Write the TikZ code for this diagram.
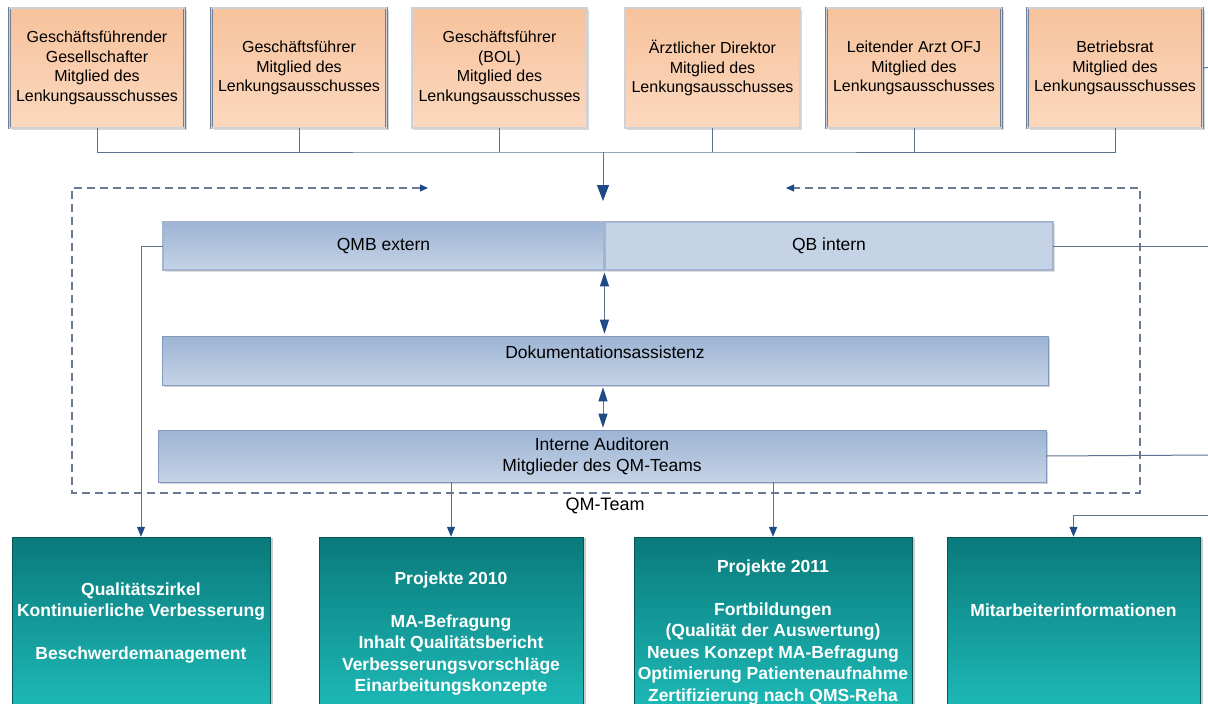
\documentclass[tikz,border=0pt]{standalone}
\usepackage{fontspec}
\setmainfont{Liberation Sans}
\usetikzlibrary{positioning, arrows.meta, shadows, calc}
\definecolor{lsorange}{HTML}{F7C29C}
\definecolor{lsorangelt}{HTML}{FBD8BE}
\definecolor{lsframe}{HTML}{6E7C94}
\definecolor{qmblue}{HTML}{9DB4D4}
\definecolor{qmbluelt}{HTML}{C5D3E6}
\definecolor{qmframe}{HTML}{5878AB}
\definecolor{tealdk}{HTML}{0A7A7B}
\definecolor{teallt}{HTML}{1FC0BD}
\definecolor{linegray}{HTML}{5B7292}
\definecolor{arrblue}{HTML}{1F4A86}
\definecolor{dashgray}{HTML}{6A7A92}

\begin{document}
\begin{tikzpicture}[
      x=1pt, y=-1pt,
      every node/.style={inner sep=2pt},
      lbox/.style={draw=lsframe, line width=0.9pt, double=lsframe!35, double distance=1.1pt,
                   top color=lsorange, bottom color=lsorangelt,
                   minimum width=175pt, minimum height=120pt, align=center,
                   font=\fontsize{16}{19.7}\selectfont,
                   drop shadow={shadow xshift=2pt, shadow yshift=-2pt, opacity=0.3}},
      qbox/.style={draw=qmframe, line width=0.9pt, double=qmframe!55, double distance=1.1pt,
                   top color=qmblue, bottom color=qmbluelt,
                   minimum height=48pt, align=center,
                   font=\fontsize{17.5}{21}\selectfont,
                   drop shadow={shadow xshift=2pt, shadow yshift=-2pt, opacity=0.25}},
      qflat/.style={qbox, top color=qmbluelt, bottom color=qmbluelt},
      mbox/.style={draw=qmframe!75, line width=0.6pt,
                   top color=qmblue, bottom color=qmbluelt, align=center,
                   font=\fontsize{17.5}{21}\selectfont,
                   drop shadow={shadow xshift=2pt, shadow yshift=-2pt, opacity=0.35}},
      tbox/.style={draw=tealdk!70!black, line width=0.5pt,
                   top color=tealdk, bottom color=teallt,
                   minimum height=190pt,
                   drop shadow={shadow xshift=2.5pt, shadow yshift=-1pt, opacity=0.4}},
      ttext/.style={text=white, align=center, anchor=north,
                    font=\bfseries\fontsize{17.5}{21.5}\selectfont},
      conn/.style={draw=linegray, line width=1pt},
      bigarr/.style={conn, -{Triangle[length=16pt, width=12pt, color=arrblue]}},
      dblarr/.style={conn, {Triangle[length=14pt, width=9pt, color=arrblue]}-{Triangle[length=14pt, width=9pt, color=arrblue]},
                     shorten <=2pt, shorten >=2pt},
      smarr/.style={conn, -{Triangle[length=10pt, width=8pt, color=arrblue]}},
      dasharr/.style={draw=dashgray, line width=1.1pt, dash pattern=on 8pt off 5pt,
                      {Triangle[length=8pt, width=7pt, color=arrblue]}-{Triangle[length=8pt, width=7pt, color=arrblue]}},
    ]
    \useasboundingbox (0,0) rectangle (1208,704);
    \clip (0,0) rectangle (1208,704);

    \node[lbox] (t1) at (97,68)
      {Geschäftsführender\\Gesellschafter\\Mitglied des\\Lenkungsausschusses};
    \node[lbox] (t2) at (299,68)
      {Geschäftsführer\\Mitglied des\\Lenkungsausschusses};
    \node[lbox] (t3) at (499.5,68)
      {Geschäftsführer\\(BOL)\\Mitglied des\\Lenkungsausschusses};
    \node[lbox] (t4) at (712.5,68)
      {Ärztlicher Direktor\\Mitglied des\\Lenkungsausschusses};
    \node[lbox] (t5) at (914,68)
      {Leitender Arzt OFJ\\Mitglied des\\Lenkungsausschusses};
    \node[lbox] (t6) at (1115,68)
      {Betriebsrat\\Mitglied des\\Lenkungsausschusses};

    \coordinate (bus) at (603,152);
    \coordinate (qmin) at (603,201);
    \coordinate (edge1) at (1212,67);

    \node[qbox, minimum width=441pt] (qmb) at (383.5,246) {QMB extern};
    \node[qflat, minimum width=448pt] (qb) at (829,246) {QB intern};
    \node[mbox, minimum width=886pt, minimum height=49pt, text height=12pt, text depth=17pt]
      (dok) at (605,360.5) {Dokumentationsassistenz};
    \node[mbox, minimum width=888pt, minimum height=52pt] (ia) at (602,456)
      {Interne Auditoren\\Mitglieder des QM-Teams};

    \coordinate (dL) at (428,188);
    \coordinate (dR) at (786,188);
    \node[font=\fontsize{18}{21}\selectfont] (qmteam) at (605,506) {QM-Team};

    \node[tbox, minimum width=258pt] (b1) at (141,632)
      {};
    \node[tbox, minimum width=264pt] (b2) at (451,632)
      {};
    \node[tbox, minimum width=278pt] (b3) at (773,632)
      {};
    \node[tbox, minimum width=253pt] (b4) at (1073.5,632)
      {};
    \node[ttext, yshift=-43.7pt] (b1t) at (b1.north)
      {Qualitätszirkel\\Kontinuierliche Verbesserung\\[21.5pt]Beschwerdemanagement};
    \node[ttext, yshift=-32.7pt] (b2t) at (b2.north)
      {Projekte 2010\\[21.5pt]MA-Befragung\\Inhalt Qualitätsbericht\\Verbesserungsvorschläge\\Einarbeitungskonzepte};
    \node[ttext, yshift=-21pt] (b3t) at (b3.north)
      {Projekte 2011\\[21.3pt]Fortbildungen\\(Qualität der Auswertung)\\Neues Konzept MA-Befragung\\Optimierung Patientenaufnahme\\Zertifizierung nach QMS-Reha};
    \node[ttext, yshift=-64.7pt] (b4t) at (b4.north)
      {Mitarbeiterinformationen};

    \coordinate (edge2) at (1212,246);
    \coordinate (edge3) at (1212,455);
    \coordinate (edge4) at (1212,515);

    \draw[conn] (t1.south) |- (bus) -| (t6.south);
    \draw[conn] (t2.south) -- (t2.south |- bus);
    \draw[conn] (t3.south) -- (t3.south |- bus);
    \draw[conn] (t4.south) -- (t4.south |- bus);
    \draw[conn] (t5.south) -- (t5.south |- bus);
    \draw[conn] (t6.east) -- (edge1);
    \draw[bigarr] (bus) -- (qmin);

    \draw[dasharr] (dL) -- (72,188) -- (72,493) -- (1140,493) -- (1140,188) -- (dR);

    \draw[dblarr] (qmb.south east) -- (qmb.south east |- dok.north);
    \draw[dblarr] (dok.south -| 603,0) -- (ia.north -| 603,0);

    \draw[conn] (qb.east) -- (edge2);
    \draw[conn] (ia.east) -- (edge3);
    \draw[smarr] (qmb.west) -| (b1.north);
    \draw[smarr] (ia.south -| b2.north) -- (b2.north);
    \draw[smarr] (ia.south -| b3.north) -- (b3.north);
    \draw[smarr] (edge4) -| (b4.north);
  \end{tikzpicture}
\end{document}
